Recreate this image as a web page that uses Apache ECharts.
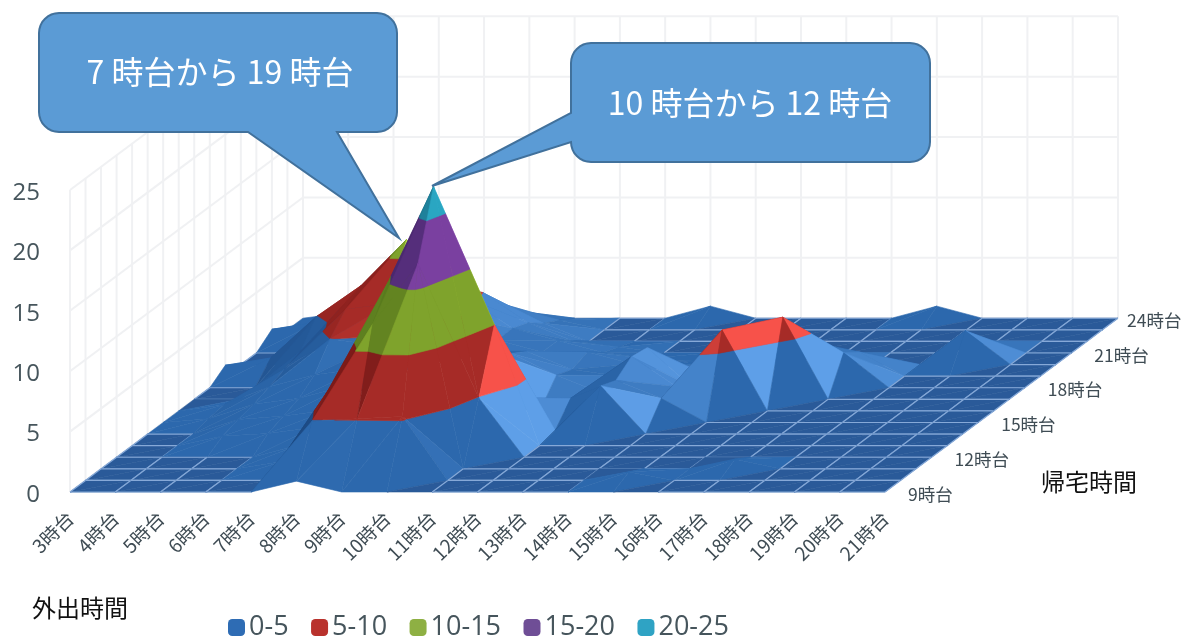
<!DOCTYPE html>
<html>
<head>
<meta charset="utf-8">
<style>html,body{margin:0;padding:0;background:#fff}#chart{width:1189px;height:640px}</style>
<script src="https://cdn.jsdelivr.net/npm/echarts@6/dist/echarts.min.js"></script>
</head>
<body>
<div id="chart"></div>
<script>
// Outing hour along the front edge, return hour along the depth edge.
const outHours = ['3時台','4時台','5時台','6時台','7時台','8時台','9時台','10時台','11時台','12時台','13時台','14時台','15時台','16時台','17時台','18時台','19時台','20時台','21時台'];
const returnHours = ['9時台','','','12時台','','','15時台','','','18時台','','','21時台','','','24時台'];
const bandNames = ['0-5','5-10','10-15','15-20','20-25'];
const zTicks = [0,5,10,15,20,25];

// Share (%) for each return hour, one value per outing hour from 3時台 to 21時台.
const return09 = [0,0,0,0,0,0.9,0,0,0,0,0,0,0,0,0,0,0,0,0];
const return10 = [0,0,0,0,0,4.9,5.1,5.3,0,0,0,0,0.7,0,0,0,0,0,0];
const return11 = [0,0,0,0,0.6,6.4,12,17,0,0,0,0,0,0,0.8,0,0,0,0];
const return12 = [0,0,0,0,1,7.2,14.5,22.4,4.9,0,0,0,0,0,0,0,0,0,0];
const return13 = [0,0,0.8,1,1.5,8.1,9,14,10,0,0,0,0,0,0,0,0,0,0];
const return14 = [0,0,1.2,1.5,2,5,7,9,3,0.3,4,0,0,0,0,0,0,0,0];
const return15 = [0,0.3,1.5,2,3,4,5,6,1.5,2,3.5,2,0,0,0,0,0,0,0];
const return16 = [0,0.5,2,3,3.5,4,5,4.8,0.2,0,4.5,2,6.7,0,0,0,0,0,0];
const return17 = [0,0,2.5,5,4.5,4,4,3.8,2,0.5,4.3,1,5.5,6.8,0,0,0,0,0];
const return18 = [0,0,3,6.5,7,4,3,3,1.5,1,2,1,3,4,2.9,0,0,0,0];
const return19 = [0.9,1.5,4.9,7.5,11.3,5,3,2,2,1,1,0.5,1,1.5,2,0,0,0,0];
const return20 = [0,0,2.5,6.5,7,5.5,3,2,1,0.5,0.3,0,0.5,1,0,0,2.8,0,0];
const return21 = [0,0,1.5,3,4,5,2.5,1,0.5,0,0,0,0,0,0,0,1,0,0];
const return22 = [1,1.6,1.5,2,2,3.2,1.5,0,0,0,0,0,0,0,0,0,0,0,0];
const return23 = [0,0.5,1,1,1,1.6,0.8,0,0,0,0,0,0,0,0,0,0,0,0];
const return24 = [0,0.5,0.5,0.3,0.2,0,0,0,0,1,0,0,0,0,1,0,0,0,0];

const surface = [return09,return10,return11,return12,return13,return14,return15,return16,
  return17,return18,return19,return20,return21,return22,return23,return24];

const BAND = 5;
const ZMAX = 25;
const DEPTH = surface.length - 1;
const COLS = outHours.length - 1;
// Oblique floor: one return-hour step moves this far along the x and y axes.
const SHEAR_X = 0.343;
const SHEAR_Y = 0.959;
const SLOPE_SCALE = 12.1 / 45.3;

const palette = [
  {dark:'#163c70', mid:'#2c68ad', light:'#5e9fe8', floor:'#2a5a99'},
  {dark:'#701715', mid:'#a62b27', light:'#f7524a'},
  {dark:'#55761c', mid:'#7fa32c', light:'#bcdc50'},
  {dark:'#44266a', mid:'#7a40a0', light:'#9a60c0'},
  {dark:'#1a7088', mid:'#2aa6c2', light:'#50c8dc'}
];
const legendColors = ['#2e6cb4','#b9322d','#8eb043','#6f4e96','#2fa3c4'];

function hexMix(a, b, t) {
  const pa = parseInt(a.slice(1), 16), pb = parseInt(b.slice(1), 16);
  const c = s => Math.round(((pa >> s) & 255) * (1 - t) + ((pb >> s) & 255) * t);
  return 'rgb(' + c(16) + ',' + c(8) + ',' + c(0) + ')';
}

// Facet shading follows the slope across the columns: rising to the right is in
// shadow, a moderate fall to the right catches the light, very steep faces stay neutral.
function facetColor(band, tri, isUpper, row) {
  const gx = (isUpper ? tri[2][2] - tri[1][2] : tri[1][2] - tri[0][2]) * SLOPE_SCALE;
  let t = 0;
  if (gx > 0.25) {
    t = -Math.min(0.9, (gx - 0.25) / 1.6);
  } else if (gx < -0.1 && gx > -3.2 && (!isUpper || tri[0][2] > 0)) {
    t = Math.min(1, -gx / 1.1);
    if (row < 3) t *= 0.15;
  }
  const pal = palette[band];
  return t >= 0 ? hexMix(pal.mid, pal.light, t) : hexMix(pal.mid, pal.dark, -t);
}

// Keeps the part of a triangle lying between two heights.
function clipBand(poly, lo, hi) {
  const clip = (pts, keep, level) => {
    const out = [];
    pts.forEach((a, k) => {
      const b = pts[(k + 1) % pts.length];
      const ka = keep(a[2]), kb = keep(b[2]);
      if (ka) out.push(a);
      if (ka !== kb) {
        const f = (level - a[2]) / (b[2] - a[2]);
        out.push([a[0] + (b[0]-a[0])*f, a[1] + (b[1]-a[1])*f, level]);
      }
    });
    return out;
  };
  return clip(clip(poly, z => z >= lo, lo), z => z <= hi, hi);
}

// Facets per band, painted back to front: far rows first, left to right in a row.
const facets = bandNames.map(() => []);
const gridEdges = [];
let paint = 1;
for (let r = DEPTH - 1; r >= 0; r--) {
  for (let i = 0; i < COLS; i++) {
    const v = (a, b) => [a, b, surface[b][a]];
    const upper = [v(i, r), v(i, r + 1), v(i + 1, r + 1)];
    const lower = [v(i, r), v(i + 1, r), v(i + 1, r + 1)];
    [upper, lower].forEach((tri, side) => {
      const flat = tri.every(p => p[2] === 0);
      if (flat) {
        facets[0].push({pts: tri, color: palette[0].floor, z2: paint});
      } else {
        bandNames.forEach((_, b) => {
          const piece = clipBand(tri, b * BAND, (b + 1) * BAND);
          if (piece.length > 2) {
            facets[b].push({pts: piece, color: facetColor(b, tri, side === 0, r), z2: paint});
          }
        });
      }
      paint++;
    });
    // Mesh lines only show on the flat zero floor.
    const zero = (a, b) => surface[b][a] === 0;
    const quadFlat = zero(i,r) && zero(i+1,r) && zero(i,r+1) && zero(i+1,r+1);
    if (quadFlat) {
      gridEdges.push({a:[i,r], b:[i+1,r], z2:paint});
      gridEdges.push({a:[i,r+1], b:[i+1,r+1], z2:paint});
      gridEdges.push({a:[i,r], b:[i,r+1], z2:paint});
      gridEdges.push({a:[i+1,r], b:[i+1,r+1], z2:paint});
      paint++;
    }
  }
}

function project(api, i, r, z) {
  return api.coord([i + r * SHEAR_X, z + r * SHEAR_Y]);
}

function bandSeries(b) {
  return {
    type: 'custom',
    name: bandNames[b],
    coordinateSystem: 'cartesian2d',
    silent: true,
    clip: false,
    itemStyle: {color: legendColors[b]},
    data: facets[b].map((_, k) => [k]),
    encode: {x: [], y: []},
    renderItem: (params, api) => {
      const f = facets[b][api.value(0)];
      return {
        type: 'polygon',
        z2: f.z2,
        shape: {points: f.pts.map(p => project(api, p[0], p[1], p[2]))},
        style: {fill: f.color, stroke: f.color, lineWidth: 0.6}
      };
    }
  };
}

const wallSeries = {
  type: 'custom',
  name: 'walls',
  silent: true,
  clip: false,
  z: 1,
  data: [[0]],
  encode: {x: [], y: []},
  renderItem: (params, api) => {
    const style = {stroke: '#f0f1f3', lineWidth: 2};
    const line = (a, b) => ({
      type: 'line',
      shape: {x1: a[0], y1: a[1], x2: b[0], y2: b[1]},
      style
    });
    const children = [];
    for (let i = 0; i <= COLS; i++) {
      children.push(line(project(api, i, DEPTH, 0), project(api, i, DEPTH, ZMAX)));
    }
    for (let r = 0; r <= DEPTH; r++) {
      children.push(line(project(api, 0, r, 0), project(api, 0, r, ZMAX)));
    }
    zTicks.forEach(z => {
      children.push(line(project(api, 0, DEPTH, z), project(api, COLS, DEPTH, z)));
      children.push(line(project(api, 0, 0, z), project(api, 0, DEPTH, z)));
    });
    return {type: 'group', children};
  }
};

const meshSeries = {
  type: 'custom',
  name: 'mesh',
  silent: true,
  clip: false,
  data: gridEdges.map((_, k) => [k]),
  encode: {x: [], y: []},
  renderItem: (params, api) => {
    const e = gridEdges[api.value(0)];
    const a = project(api, e.a[0], e.a[1], 0), b = project(api, e.b[0], e.b[1], 0);
    return {
      type: 'line',
      z2: e.z2,
      shape: {x1: a[0], y1: a[1], x2: b[0], y2: b[1]},
      style: {stroke: '#86a9d8', lineWidth: 1.2}
    };
  }
};

const returnLabelSeries = {
  type: 'custom',
  name: 'return-hours',
  silent: true,
  clip: false,
  data: returnHours.map((_, k) => [k]),
  encode: {x: [], y: []},
  renderItem: (params, api) => {
    const r = api.value(0);
    if (!returnHours[r]) return null;
    const p = project(api, COLS, r, 0);
    return {
      type: 'text',
      z2: 100000,
      x: p[0] + (r === DEPTH ? 9 : 23),
      y: p[1] + 2,
      style: {
        text: returnHours[r],
        fill: '#3f4c54',
        font: '17.5px "Noto Sans CJK JP"',
        align: 'left',
        verticalAlign: 'middle'
      }
    };
  }
};

// Speech-bubble outline: rounded box with a pointed tail.
function bubble(x0, y0, x1, y1, rad, tail) {
  const pts = [];
  const arc = (cx, cy, from) => {
    for (let k = 0; k <= 8; k++) {
      const a = from + k / 8 * Math.PI / 2;
      pts.push([cx + rad * Math.cos(a), cy + rad * Math.sin(a)]);
    }
  };
  arc(x0 + rad, y0 + rad, Math.PI);
  arc(x1 - rad, y0 + rad, -Math.PI / 2);
  arc(x1 - rad, y1 - rad, 0);
  if (tail.side === 'bottom') tail.pts.forEach(p => pts.push(p));
  arc(x0 + rad, y1 - rad, Math.PI / 2);
  if (tail.side === 'left') tail.pts.forEach(p => pts.push(p));
  return pts;
}

function callout(points, label, cx, cy) {
  return {
    type: 'group',
    silent: true,
    children: [
      {type: 'polygon', z: 50, shape: {points}, style: {fill: '#5b9bd5', stroke: '#41719c', lineWidth: 2}},
      {type: 'text', z: 51, x: cx, y: cy, style: {
        text: label, fill: '#fff', font: '32px "Noto Sans CJK JP"',
        align: 'center', verticalAlign: 'middle'
      }}
    ]
  };
}

const chart = echarts.init(document.getElementById('chart'), null, {renderer: 'canvas'});
chart.setOption({
  animation: false,
  backgroundColor: '#fff',
  grid: {left: 70, right: 304, top: 190, bottom: 148, containLabel: false},
  xAxis: {
    type: 'value', min: 0, max: COLS, interval: 1,
    axisLine: {show: false}, axisTick: {show: false}, splitLine: {show: false},
    axisLabel: {
      rotate: 45, margin: 23,
      color: '#3f4c54',
      fontFamily: '"Noto Sans CJK JP"', fontSize: 19,
      formatter: v => outHours[v] || ''
    }
  },
  yAxis: {
    type: 'value', min: 0, max: ZMAX, interval: BAND,
    axisLine: {show: false}, axisTick: {show: false}, splitLine: {show: false},
    axisLabel: {margin: 30, color: '#46555c', fontFamily: '"Open Sans"', fontSize: 24, verticalAlign: 'top', lineHeight: 6}
  },
  legend: {
    data: bandNames,
    left: 223, top: 609,
    icon: 'roundRect',
    itemWidth: 17, itemHeight: 17, itemGap: 22.5,
    textStyle: {color: '#46555c', fontFamily: '"Open Sans"', fontSize: 27, padding: [0, 0, 0, -1]}
  },
  series: [wallSeries, bandSeries(0), bandSeries(1), bandSeries(2), bandSeries(3), bandSeries(4), meshSeries, returnLabelSeries],
  graphic: [
    callout(bubble(39, 13, 397, 132, 20, {side: 'bottom', pts: [[337, 132], [399, 238], [248, 132]]}), '7 時台から 19 時台', 220, 72),
    callout(bubble(571, 43, 930, 162, 20, {side: 'left', pts: [[571, 142], [432, 186], [571, 113]]}), '10 時台から 12 時台', 750, 103),
    {type: 'text', left: 32, top: 596, silent: true, style: {text: '外出時間', fill: '#111', font: '24px "Noto Sans CJK JP"'}},
    {type: 'text', left: 1041, top: 470, silent: true, style: {text: '帰宅時間', fill: '#111', font: '24px "Noto Sans CJK JP"'}}
  ]
});
</script>
</body>
</html>
